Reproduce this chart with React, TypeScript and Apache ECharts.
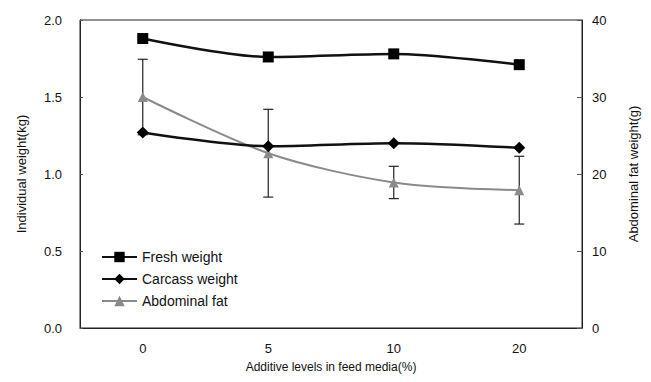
import React, { useEffect, useRef } from "react";
import * as echarts from "echarts";

const categories = ["0", "5", "10", "20"];
const freshWeight = [1.88, 1.76, 1.78, 1.71];
const carcassWeight = [1.27, 1.18, 1.2, 1.17];
const abdominalFat = [30.0, 22.7, 18.9, 17.9];
const abdominalFatErr = [4.9, 5.7, 2.1, 4.4];

const FONT = "'Liberation Sans', Arial, sans-serif";

export default function App() {
  const ref = useRef<HTMLDivElement>(null);
  useEffect(() => {
    if (!ref.current) return;
    const chart = echarts.init(ref.current, undefined, { renderer: "svg" });
    const errData = abdominalFat.map((v, i) => [i, v - abdominalFatErr[i], v + abdominalFatErr[i]]);
    chart.setOption({
      animation: false,
      backgroundColor: "#fff",
      textStyle: { fontFamily: FONT, color: "#111" },
      grid: { left: 80, right: 69, top: 20, bottom: 54, show: true, borderColor: "#222", borderWidth: 1 },
      legend: {
        orient: "vertical",
        left: 96,
        top: 245,
        itemGap: 8,
        itemWidth: 35,
        itemHeight: 13,
        textStyle: { fontFamily: FONT, fontSize: 14, color: "#111" },
        data: ["Fresh weight", "Carcass weight", "Abdominal fat"],
      },
      xAxis: {
        type: "category",
        data: categories,
        boundaryGap: true,
        axisLine: { lineStyle: { color: "#222" } },
        axisTick: { show: false },
        axisLabel: { fontFamily: FONT, fontSize: 13, color: "#111", margin: 14 },
        name: "Additive levels in feed media(%)",
        nameLocation: "middle",
        nameGap: 33,
        nameTextStyle: { fontFamily: FONT, fontSize: 12, color: "#111" },
      },
      yAxis: [
        {
          type: "value",
          min: 0,
          max: 2,
          interval: 0.5,
          axisLine: { show: true, lineStyle: { color: "#222" } },
          axisTick: { show: true, inside: true, length: 3, lineStyle: { color: "#555" } },
          splitLine: { show: false },
          axisLabel: { fontFamily: FONT, fontSize: 13, color: "#111", margin: 18, formatter: (v: number) => v.toFixed(1) },
          name: "Individual weight(kg)",
          nameLocation: "middle",
          nameGap: 52,
          nameTextStyle: { fontFamily: FONT, fontSize: 13, color: "#111" },
        },
        {
          type: "value",
          min: 0,
          max: 40,
          interval: 10,
          position: "right",
          axisLine: { show: true, lineStyle: { color: "#222" } },
          axisTick: { show: true, inside: true, length: 5, lineStyle: { color: "#555" } },
          splitLine: { show: false },
          axisLabel: { fontFamily: FONT, fontSize: 13, color: "#111", margin: 10 },
          name: "Abdominal fat weight(g)",
          nameLocation: "middle",
          nameGap: 45,
          nameRotate: 90,
          nameTextStyle: { fontFamily: FONT, fontSize: 13, color: "#111" },
        },
      ],
      series: [
        {
          name: "Fresh weight",
          type: "line",
          data: freshWeight,
          smooth: 0.3,
          symbol: "rect",
          symbolSize: 11,
          itemStyle: { color: "#000" },
          lineStyle: { color: "#111", width: 2.5 },
          z: 5,
        },
        {
          name: "Carcass weight",
          type: "line",
          data: carcassWeight,
          smooth: 0.3,
          symbol: "diamond",
          symbolSize: 12,
          itemStyle: { color: "#000" },
          lineStyle: { color: "#111", width: 2.5 },
          z: 5,
        },
        {
          name: "Abdominal fat",
          type: "line",
          yAxisIndex: 1,
          data: abdominalFat,
          smooth: 0.3,
          symbol: "triangle",
          symbolSize: 10,
          itemStyle: { color: "#8a8a8a" },
          lineStyle: { color: "#8a8a8a", width: 2 },
          z: 4,
        },
        {
          name: "err",
          type: "custom",
          yAxisIndex: 1,
          data: errData,
          z: 3,
          renderItem: (params: any, api: any) => {
            const x = api.value(0);
            const lo = api.coord([x, api.value(1)]);
            const hi = api.coord([x, api.value(2)]);
            const w = 5;
            const st = { stroke: "#222", lineWidth: 1.2 };
            return {
              type: "group",
              children: [
                { type: "line", shape: { x1: hi[0], y1: hi[1], x2: lo[0], y2: lo[1] }, style: st },
                { type: "line", shape: { x1: hi[0] - w, y1: hi[1], x2: hi[0] + w, y2: hi[1] }, style: st },
                { type: "line", shape: { x1: lo[0] - w, y1: lo[1], x2: lo[0] + w, y2: lo[1] }, style: st },
              ],
            };
          },
        },
      ],
    });
    return () => chart.dispose();
  }, []);
  return <div ref={ref} style={{ width: 651, height: 382, position: "absolute", left: 0, top: 0 }} />;
}
